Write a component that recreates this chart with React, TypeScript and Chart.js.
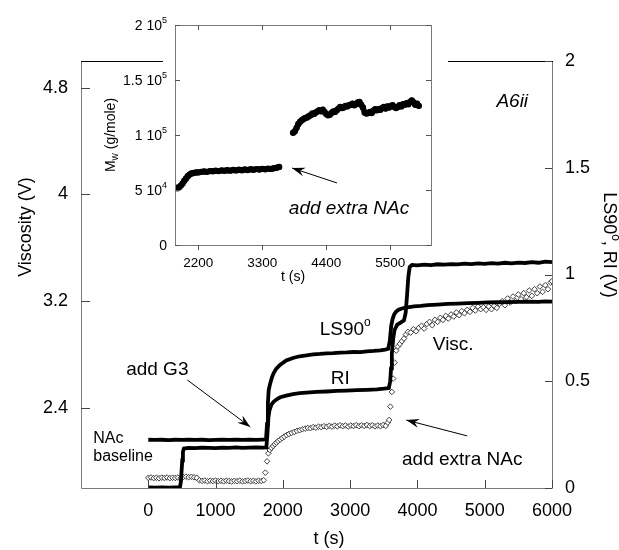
import React, { useEffect, useRef } from "react";
import { Chart, registerables } from "chart.js";

Chart.register(...registerables);

const FONT = '"Liberation Sans", Arial, Helvetica, sans-serif';
const AXIS_GRAY = "#7a7a7a";

// ---------------- main chart data ----------------
const timeTicks = [0, 1000, 2000, 3000, 4000, 5000, 6000];
const viscosityTicks = [2.4, 3.2, 4.0, 4.8];
const signalTicks = [0, 0.5, 1, 1.5, 2];

// LS90° signal (right axis, V): [t (s), value]
const ls90Series: [number, number][] = [
  [0, 0.226], [100, 0.225], [200, 0.226], [300, 0.224], [400, 0.226], [500, 0.225],
  [600, 0.227], [700, 0.225], [800, 0.226], [900, 0.224], [1000, 0.225], [1100, 0.226],
  [1200, 0.225], [1300, 0.227], [1400, 0.225], [1500, 0.226], [1600, 0.225], [1700, 0.227],
  [1750, 0.228], [1765, 0.3], [1778, 0.4], [1790, 0.46], [1812, 0.49], [1840, 0.52],
  [1862, 0.537], [1900, 0.558], [1961, 0.578], [2050, 0.597], [2150, 0.609], [2250, 0.617],
  [2350, 0.621], [2450, 0.626], [2550, 0.628], [2650, 0.631], [2750, 0.632], [2850, 0.634],
  [2950, 0.635], [3050, 0.637], [3150, 0.636], [3250, 0.64], [3350, 0.642], [3450, 0.645],
  [3520, 0.648], [3566, 0.652], [3590, 0.69], [3610, 0.76], [3630, 0.79], [3650, 0.81],
  [3680, 0.825], [3720, 0.835], [3780, 0.842], [3850, 0.846], [3950, 0.851], [4050, 0.853],
  [4150, 0.857], [4300, 0.859], [4450, 0.862], [4600, 0.864], [4750, 0.866], [4900, 0.867],
  [5050, 0.869], [5200, 0.87], [5350, 0.871], [5500, 0.872], [5650, 0.873], [5800, 0.872],
  [5900, 0.874], [6000, 0.873],
];

// RI signal (right axis, V)
const riSeries: [number, number][] = [
  [0, 0.003], [100, 0.002], [200, 0.003], [300, 0.002], [400, 0.003], [470, 0.003],
  [485, 0.03], [495, 0.08], [505, 0.13], [515, 0.17], [530, 0.185], [600, 0.188],
  [700, 0.187], [800, 0.189], [900, 0.188], [1000, 0.187], [1100, 0.189], [1200, 0.188],
  [1300, 0.19], [1400, 0.188], [1500, 0.189], [1600, 0.19], [1700, 0.189], [1755, 0.19],
  [1770, 0.25], [1785, 0.33], [1802, 0.365], [1830, 0.39], [1862, 0.404], [1920, 0.418],
  [1961, 0.425], [2050, 0.433], [2150, 0.44], [2250, 0.444], [2350, 0.447], [2500, 0.45],
  [2650, 0.452], [2800, 0.455], [2950, 0.456], [3100, 0.458], [3250, 0.46], [3400, 0.462],
  [3500, 0.465], [3575, 0.468], [3595, 0.5], [3608, 0.56], [3620, 0.63], [3640, 0.7],
  [3660, 0.74], [3700, 0.765], [3750, 0.775], [3800, 0.785], [3825, 0.82], [3845, 0.9],
  [3865, 0.99], [3885, 1.035], [3920, 1.045], [4000, 1.043], [4100, 1.046], [4200, 1.044],
  [4300, 1.048], [4400, 1.046], [4500, 1.049], [4600, 1.047], [4700, 1.051], [4800, 1.049],
  [4900, 1.052], [5000, 1.05], [5100, 1.053], [5200, 1.051], [5300, 1.055], [5400, 1.052],
  [5500, 1.056], [5600, 1.054], [5700, 1.058], [5800, 1.055], [5900, 1.06], [6000, 1.058],
];

// Viscosity signal (left axis, V)
const viscSeries: [number, number][] = [
  [0, 1.876], [40, 1.879], [80, 1.874], [120, 1.877], [160, 1.873], [200, 1.878], [240, 1.875],
  [280, 1.879], [320, 1.874], [360, 1.877], [400, 1.875], [440, 1.878], [480, 1.874], [520, 1.882],
  [560, 1.885], [600, 1.881], [640, 1.884], [680, 1.88], [720, 1.876], [760, 1.858], [800, 1.853],
  [840, 1.856], [880, 1.851], [920, 1.855], [960, 1.852], [1000, 1.856], [1040, 1.851], [1080, 1.854],
  [1120, 1.85], [1160, 1.855], [1200, 1.852], [1240, 1.849], [1280, 1.854], [1320, 1.851], [1360, 1.855],
  [1400, 1.85], [1440, 1.853], [1480, 1.856], [1520, 1.851], [1560, 1.854], [1600, 1.85], [1640, 1.855],
  [1680, 1.852], [1715, 1.858], [1740, 1.915], [1765, 2.0], [1785, 2.06], [1805, 2.085], [1830, 2.1],
  [1855, 2.115], [1880, 2.128], [1905, 2.14], [1930, 2.152], [1960, 2.163], [1990, 2.174], [2020, 2.185],
  [2055, 2.196], [2090, 2.205], [2130, 2.213], [2170, 2.22], [2210, 2.228], [2250, 2.233], [2290, 2.24],
  [2330, 2.245], [2370, 2.25], [2410, 2.248], [2450, 2.256], [2490, 2.252], [2530, 2.26], [2570, 2.256],
  [2610, 2.263], [2650, 2.258], [2690, 2.266], [2730, 2.26], [2770, 2.268], [2810, 2.262], [2850, 2.27],
  [2890, 2.263], [2930, 2.269], [2970, 2.261], [3010, 2.268], [3050, 2.264], [3090, 2.271], [3130, 2.263],
  [3170, 2.27], [3210, 2.265], [3250, 2.272], [3290, 2.264], [3330, 2.27], [3370, 2.262], [3410, 2.268],
  [3450, 2.264], [3490, 2.272], [3530, 2.266], [3560, 2.29], [3580, 2.31], [3598, 2.41], [3620, 2.52],
  [3640, 2.62], [3660, 2.74], [3685, 2.83], [3710, 2.86], [3740, 2.88], [3770, 2.9], [3800, 2.92],
  [3830, 2.95], [3860, 2.97], [3900, 2.965], [3940, 2.99], [3980, 2.975], [4020, 3.0], [4060, 3.015],
  [4100, 2.995], [4140, 3.03], [4180, 3.045], [4220, 3.02], [4260, 3.06], [4300, 3.045], [4340, 3.075],
  [4380, 3.06], [4420, 3.09], [4460, 3.07], [4500, 3.1], [4540, 3.085], [4580, 3.115], [4620, 3.095],
  [4660, 3.125], [4700, 3.11], [4740, 3.135], [4780, 3.12], [4820, 3.15], [4860, 3.13], [4900, 3.16],
  [4940, 3.14], [4980, 3.155], [5020, 3.135], [5060, 3.16], [5100, 3.14], [5140, 3.165], [5180, 3.15],
  [5220, 3.18], [5260, 3.2], [5300, 3.17], [5340, 3.22], [5380, 3.19], [5420, 3.235], [5460, 3.2],
  [5500, 3.25], [5540, 3.215], [5580, 3.26], [5620, 3.23], [5660, 3.28], [5700, 3.24], [5740, 3.29],
  [5780, 3.26], [5820, 3.31], [5860, 3.27], [5900, 3.32], [5940, 3.29], [5980, 3.34], [6000, 3.35],
];

// ---------------- inset data ----------------
const insetTimeTicks = [2200, 3300, 4400, 5500];
const mwTicks = [0, 50000, 100000, 150000, 200000];
const mwTickMantissas = ["0", "5 10", "1 10", "1.5 10", "2 10"];
const mwTickExponents = ["", "4", "5", "5", "5"];

const mwBefore: [number, number][] = [
  [1810, 52000], [1840, 51500], [1870, 52500], [1900, 54000], [1930, 56000], [1960, 58500],
  [1990, 60500], [2020, 62500], [2050, 64000], [2080, 65000], [2120, 65500], [2160, 66000],
  [2200, 66000], [2250, 66500], [2300, 66800], [2350, 66500], [2400, 67200], [2450, 67000],
  [2500, 67500], [2550, 67200], [2600, 67800], [2650, 67500], [2700, 68000], [2750, 67600],
  [2800, 68200], [2850, 67800], [2900, 68400], [2950, 68000], [3000, 68600], [3050, 68200],
  [3100, 68800], [3150, 68400], [3200, 69000], [3250, 68600], [3300, 69200], [3350, 68800],
  [3400, 69400], [3450, 69200], [3500, 69800], [3550, 70200], [3590, 71000],
];

const mwAfter: [number, number][] = [
  [3830, 102000], [3860, 103500], [3890, 106500], [3920, 110000], [3950, 112000], [3980, 113500],
  [4010, 114500], [4040, 115500], [4070, 116000], [4100, 117000], [4130, 118000], [4160, 119500],
  [4190, 119000], [4220, 120500], [4250, 121500], [4280, 122500], [4310, 121500], [4340, 123000],
  [4370, 121000], [4400, 119000], [4430, 118000], [4460, 118500], [4490, 120000], [4520, 121500],
  [4550, 121000], [4580, 122500], [4610, 124000], [4640, 125500], [4670, 124500], [4700, 125000],
  [4730, 126500], [4760, 126000], [4790, 127000], [4820, 127500], [4850, 128500], [4880, 127000],
  [4910, 128000], [4940, 129500], [4970, 130000], [5000, 127500], [5030, 125000], [5060, 120500],
  [5090, 119500], [5120, 120000], [5150, 121000], [5180, 120000], [5210, 122000], [5240, 123500],
  [5270, 122500], [5300, 123500], [5330, 123000], [5360, 124500], [5390, 125500], [5420, 124000],
  [5450, 126000], [5480, 125000], [5510, 126500], [5540, 127000], [5570, 125500], [5600, 124500],
  [5630, 125500], [5660, 127000], [5690, 126000], [5720, 128000], [5750, 127500], [5780, 129000],
  [5810, 128000], [5840, 130000], [5870, 131500], [5900, 129500], [5930, 127500], [5960, 128500],
  [5990, 126500],
];

// ---------------- layout ----------------
const W = 619;
const H = 550;
const INSET = { left: 90, top: 0, width: 358, height: 290 };
const TOP_GAP: [number, number] = [163, 448];

const toXY = (s: [number, number][]) => s.map(([x, y]) => ({ x, y }));

type Run = { t: string; size: number; dy?: number; style?: string };

function drawRuns(
  ctx: CanvasRenderingContext2D,
  runs: Run[],
  cx: number,
  cy: number,
  rot = 0,
  align: "center" | "left" | "right" = "center"
) {
  ctx.save();
  ctx.translate(cx, cy);
  ctx.rotate(rot);
  ctx.textBaseline = "alphabetic";
  ctx.textAlign = "left";
  ctx.fillStyle = "#000";
  const fontOf = (r: Run) => `${r.style ?? "normal"} ${r.size}px ${FONT}`;
  let w = 0;
  for (const r of runs) {
    ctx.font = fontOf(r);
    w += ctx.measureText(r.t).width;
  }
  const maxSize = Math.max(...runs.map((r) => r.size));
  let x = align === "center" ? -w / 2 : align === "right" ? -w : 0;
  const base = maxSize * 0.36;
  for (const r of runs) {
    ctx.font = fontOf(r);
    ctx.fillText(r.t, x, base + (r.dy ?? 0));
    x += ctx.measureText(r.t).width;
  }
  ctx.restore();
}

function drawArrow(ctx: CanvasRenderingContext2D, x1: number, y1: number, x2: number, y2: number) {
  ctx.save();
  ctx.strokeStyle = "#000";
  ctx.fillStyle = "#000";
  ctx.lineWidth = 1;
  ctx.beginPath();
  ctx.moveTo(x1, y1);
  ctx.lineTo(x2, y2);
  ctx.stroke();
  const a = Math.atan2(y2 - y1, x2 - x1);
  const L = 13;
  const Wd = 4.5;
  const c = Math.cos(a);
  const s = Math.sin(a);
  ctx.beginPath();
  ctx.moveTo(x2, y2);
  ctx.lineTo(x2 - L * c + Wd * s, y2 - L * s - Wd * c);
  ctx.lineTo(x2 - 0.65 * L * c, y2 - 0.65 * L * s);
  ctx.lineTo(x2 - L * c - Wd * s, y2 - L * s + Wd * c);
  ctx.closePath();
  ctx.fill();
  ctx.restore();
}

const mainDecor = {
  id: "mainDecor",
  afterDraw(chart: any) {
    const { ctx, chartArea: a, scales } = chart;
    const sx = scales.x;
    const sl = scales.y;
    const sr = scales.y1;
    const X = (t: number) => sx.getPixelForValue(t);
    const YR = (v: number) => sr.getPixelForValue(v);
    ctx.save();
    ctx.lineWidth = 1;
    ctx.strokeStyle = AXIS_GRAY;
    ctx.beginPath();
    ctx.moveTo(a.left + 0.5, a.top);
    ctx.lineTo(a.left + 0.5, a.bottom + 0.5);
    ctx.lineTo(a.right + 0.5, a.bottom + 0.5);
    ctx.lineTo(a.right + 0.5, a.top);
    ctx.stroke();
    ctx.strokeStyle = "#000";
    ctx.beginPath();
    ctx.moveTo(a.left, a.top + 0.5);
    ctx.lineTo(TOP_GAP[0], a.top + 0.5);
    ctx.moveTo(TOP_GAP[1], a.top + 0.5);
    ctx.lineTo(a.right + 1, a.top + 0.5);
    ctx.stroke();
    ctx.strokeStyle = "#444";
    ctx.beginPath();
    for (const t of timeTicks) {
      const x = Math.round(X(t)) + 0.5;
      ctx.moveTo(x, a.bottom);
      ctx.lineTo(x, a.bottom - 8);
    }
    for (const v of viscosityTicks) {
      const y = Math.round(sl.getPixelForValue(v)) + 0.5;
      ctx.moveTo(a.left, y);
      ctx.lineTo(a.left + 9, y);
    }
    for (const v of signalTicks) {
      const y = Math.round(YR(v)) + 0.5;
      ctx.moveTo(a.right, y);
      ctx.lineTo(a.right - 7, y);
    }
    ctx.stroke();
    ctx.restore();

    // axis titles
    drawRuns(ctx, [{ t: "Viscosity (V)", size: 18 }], 25, 227, -Math.PI / 2);
    drawRuns(ctx, [{ t: "t (s)", size: 18 }], 329, 538);
    drawRuns(
      ctx,
      [
        { t: "LS90", size: 18 },
        { t: "o", size: 12, dy: -8 },
        { t: ", RI (V)", size: 18 },
      ],
      610,
      245,
      Math.PI / 2
    );

    // annotations (placed in data coordinates, right axis)
    drawRuns(ctx, [{ t: "add G3", size: 19 }], X(134), YR(0.562));
    drawArrow(ctx, X(580), YR(0.506), X(1516), YR(0.286));
    drawRuns(ctx, [{ t: "NAc", size: 16 }], X(-817), YR(0.239), 0, "left");
    drawRuns(ctx, [{ t: "baseline", size: 16 }], X(-817), YR(0.155), 0, "left");
    drawRuns(
      ctx,
      [
        { t: "LS90", size: 19 },
        { t: "o", size: 12, dy: -9 },
      ],
      X(2927),
      YR(0.749)
    );
    drawRuns(ctx, [{ t: "RI", size: 19 }], X(2853), YR(0.52));
    drawRuns(ctx, [{ t: "Visc.", size: 19 }], X(4532), YR(0.679));
    drawRuns(ctx, [{ t: "add extra NAc", size: 19 }], X(4666), YR(0.14));
    drawArrow(ctx, X(4740), YR(0.244), X(3834), YR(0.318));
    drawRuns(ctx, [{ t: "A6ii", size: 19, style: "italic" }], X(5409), YR(1.817));
  },
};

const insetDecor = {
  id: "insetDecor",
  afterDraw(chart: any) {
    const { ctx, chartArea: a, scales } = chart;
    const sx = scales.x;
    const sy = scales.y;
    ctx.save();
    ctx.lineWidth = 1;
    ctx.strokeStyle = AXIS_GRAY;
    ctx.strokeRect(a.left + 0.5, a.top + 0.5, a.right - a.left, a.bottom - a.top);
    ctx.strokeStyle = "#555";
    ctx.beginPath();
    for (const t of insetTimeTicks) {
      const x = Math.round(sx.getPixelForValue(t)) + 0.5;
      ctx.moveTo(x, a.bottom);
      ctx.lineTo(x, a.bottom + 5);
      ctx.moveTo(x, a.top);
      ctx.lineTo(x, a.top + 5);
    }
    for (const v of mwTicks) {
      const y = Math.round(sy.getPixelForValue(v)) + 0.5;
      ctx.moveTo(a.left, y);
      ctx.lineTo(a.left + 5, y);
      ctx.moveTo(a.right, y);
      ctx.lineTo(a.right - 5, y);
    }
    ctx.stroke();
    ctx.restore();

    // y tick labels with real superscript exponents
    mwTicks.forEach((v, i) => {
      const runs: Run[] = [{ t: mwTickMantissas[i], size: 14 }];
      if (mwTickExponents[i]) runs.push({ t: mwTickExponents[i], size: 9, dy: -7 });
      drawRuns(ctx, runs, a.left - 8, sy.getPixelForValue(v), 0, "right");
    });

    drawRuns(
      ctx,
      [
        { t: "M", size: 14 },
        { t: "w", size: 10, dy: 3 },
        { t: " (g/mole)", size: 14 },
      ],
      20,
      135,
      -Math.PI / 2
    );
    drawRuns(ctx, [{ t: "t (s)", size: 14 }], 203, 276);
    drawRuns(
      ctx,
      [{ t: "add extra NAc", size: 19, style: "italic" }],
      sx.getPixelForValue(4791),
      sy.getPixelForValue(34500)
    );
    drawArrow(
      ctx,
      sx.getPixelForValue(4584),
      sy.getPixelForValue(56400),
      sx.getPixelForValue(3811),
      sy.getPixelForValue(70000)
    );
  },
};

export default function App() {
  const mainRef = useRef<HTMLCanvasElement>(null);
  const insetRef = useRef<HTMLCanvasElement>(null);

  useEffect(() => {
    const tickFont = { family: FONT, size: 18 };
    const main = new Chart(mainRef.current as HTMLCanvasElement, {
      type: "scatter",
      data: {
        datasets: [
          {
            label: "LS90°",
            data: toXY(ls90Series),
            yAxisID: "y1",
            showLine: true,
            borderColor: "#000",
            borderWidth: 3.8,
            pointRadius: 0,
            tension: 0,
          },
          {
            label: "RI",
            data: toXY(riSeries),
            yAxisID: "y1",
            showLine: true,
            borderColor: "#000",
            borderWidth: 3.8,
            pointRadius: 0,
            tension: 0,
          },
          {
            label: "Visc.",
            data: toXY(viscSeries),
            yAxisID: "y",
            showLine: false,
            pointStyle: "rectRot",
            pointRadius: 2.8,
            borderWidth: 0.9,
            borderColor: "#2a2a2a",
            backgroundColor: "#fff",
          },
        ],
      },
      options: {
        responsive: false,
        animation: false,
        devicePixelRatio: 1,
        layout: { padding: { top: 61, left: 0, right: 0, bottom: 0 } },
        plugins: { legend: { display: false }, tooltip: { enabled: false } },
        scales: {
          x: {
            type: "linear",
            position: "bottom",
            min: -1000,
            max: 6000,
            grid: { display: false, drawTicks: false, tickLength: 0 },
            border: { display: false },
            afterBuildTicks: (s: any) => {
              s.ticks = timeTicks.map((v) => ({ value: v }));
            },
            afterFit: (s: any) => {
              s.height = 62;
            },
            ticks: {
              font: tickFont,
              color: "#000",
              padding: 12,
              autoSkip: false,
              maxRotation: 0,
              minRotation: 0,
              callback: (v: any) => String(v),
            },
          },
          y: {
            type: "linear",
            position: "left",
            min: 1.8,
            max: 5.0,
            grid: { display: false, drawTicks: false, tickLength: 0 },
            border: { display: false },
            afterBuildTicks: (s: any) => {
              s.ticks = viscosityTicks.map((v) => ({ value: v }));
            },
            afterFit: (s: any) => {
              s.width = 81;
            },
            ticks: {
              font: tickFont,
              color: "#000",
              padding: 13,
              autoSkip: false,
              callback: (v: any) => String(v),
            },
          },
          y1: {
            type: "linear",
            position: "right",
            min: 0,
            max: 2,
            grid: { display: false, drawTicks: false, tickLength: 0 },
            border: { display: false },
            afterBuildTicks: (s: any) => {
              s.ticks = signalTicks.map((v) => ({ value: v }));
            },
            afterFit: (s: any) => {
              s.width = 67;
            },
            ticks: {
              font: tickFont,
              color: "#000",
              padding: 13,
              autoSkip: false,
              callback: (v: any) => String(v),
            },
          },
        },
      },
      plugins: [mainDecor],
    } as any);

    const insetFont = { family: FONT, size: 13.5 };
    const inset = new Chart(insetRef.current as HTMLCanvasElement, {
      type: "scatter",
      data: {
        datasets: [
          {
            label: "Mw before",
            data: toXY(mwBefore),
            showLine: true,
            borderColor: "#000",
            borderWidth: 5.5,
            pointRadius: 3.2,
            pointBorderWidth: 0,
            backgroundColor: "#000",
            borderCapStyle: "round",
            borderJoinStyle: "round",
          },
          {
            label: "Mw after",
            data: toXY(mwAfter),
            showLine: true,
            borderColor: "#000",
            borderWidth: 5.5,
            pointRadius: 3.2,
            pointBorderWidth: 0,
            backgroundColor: "#000",
            borderCapStyle: "round",
            borderJoinStyle: "round",
          },
        ],
      },
      options: {
        responsive: false,
        animation: false,
        devicePixelRatio: 1,
        layout: { padding: { top: 25, right: 17, left: 0, bottom: 0 } },
        plugins: { legend: { display: false }, tooltip: { enabled: false } },
        scales: {
          x: {
            type: "linear",
            position: "bottom",
            min: 1800,
            max: 6200,
            grid: { display: false, drawTicks: false, tickLength: 0 },
            border: { display: false },
            afterBuildTicks: (s: any) => {
              s.ticks = insetTimeTicks.map((v) => ({ value: v }));
            },
            afterFit: (s: any) => {
              s.height = 45;
            },
            ticks: {
              font: insetFont,
              color: "#000",
              padding: 10,
              autoSkip: false,
              maxRotation: 0,
              minRotation: 0,
              callback: (v: any) => String(v),
            },
          },
          y: {
            type: "linear",
            position: "left",
            min: 0,
            max: 200000,
            grid: { display: false, drawTicks: false, tickLength: 0 },
            border: { display: false },
            afterBuildTicks: (s: any) => {
              s.ticks = mwTicks.map((v) => ({ value: v }));
            },
            afterFit: (s: any) => {
              s.width = 85;
            },
            ticks: { display: false },
          },
        },
      },
      plugins: [insetDecor],
    } as any);

    return () => {
      main.destroy();
      inset.destroy();
    };
  }, []);

  return (
    <div style={{ position: "absolute", left: 0, top: 0, width: W, height: H, background: "#fff" }}>
      <canvas
        ref={mainRef}
        width={W}
        height={H}
        style={{ position: "absolute", left: 0, top: 0, width: W, height: H }}
      />
      <canvas
        ref={insetRef}
        width={INSET.width}
        height={INSET.height}
        style={{
          position: "absolute",
          left: INSET.left,
          top: INSET.top,
          width: INSET.width,
          height: INSET.height,
        }}
      />
    </div>
  );
}
